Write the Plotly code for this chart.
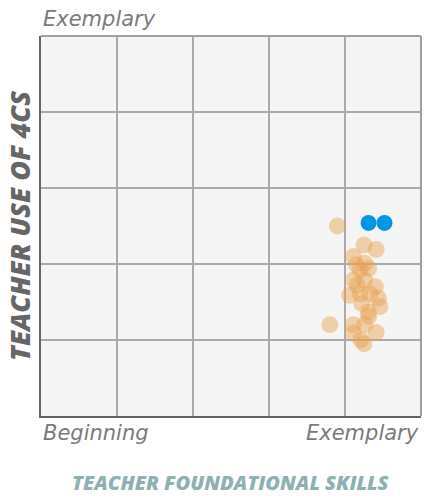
import plotly.graph_objects as go

# Data (scale 0..5)
orange_x = [3.90, 4.25, 4.41, 4.11, 4.15, 4.31, 4.26, 4.11, 4.26, 4.40, 4.06, 4.20, 4.33,
            4.44, 4.46, 4.22, 4.31, 4.31, 3.80, 4.11, 4.26, 4.41, 4.11, 4.21, 4.25, 4.20, 4.16]
orange_y = [2.50, 2.25, 2.19, 2.10, 1.99, 1.94, 2.01, 1.79, 1.79, 1.70, 1.59, 1.61, 1.61,
            1.55, 1.44, 1.48, 1.37, 1.31, 1.20, 1.20, 1.20, 1.10, 1.09, 1.00, 0.95, 1.92, 1.72]
blue_x = [4.31, 4.52]
blue_y = [2.54, 2.54]
x_labels = ["Beginning", "Exemplary"]
y_label_top = "Exemplary"
x_title = "TEACHER FOUNDATIONAL SKILLS"
y_title = "TEACHER USE OF 4CS"

fig = go.Figure()
fig.add_trace(go.Scatter(x=orange_x, y=orange_y, mode="markers",
                         marker=dict(size=17, color="rgba(232,160,80,0.45)", line=dict(width=0)),
                         hoverinfo="skip"))
fig.add_trace(go.Scatter(x=blue_x, y=blue_y, mode="markers",
                         marker=dict(size=16, color="rgb(0,150,230)", line=dict(width=0)),
                         hoverinfo="skip"))

axis_common = dict(range=[0, 5], tickvals=[1, 2, 3, 4], showticklabels=False,
                   showgrid=True, gridcolor="#aaaaaa", gridwidth=1.5, zeroline=False,
                   fixedrange=True)
fig.update_xaxes(**axis_common, showline=True, linecolor="#666666", linewidth=2)
fig.update_yaxes(**axis_common, showline=True, linecolor="#666666", linewidth=2)

label_font = dict(family="DejaVu Sans, sans-serif", size=21, color="#7a7a7a", style="italic", weight=200)
title_family = "Open Sans, sans-serif"
annotations = [
    dict(x=0, y=1, xref="paper", yref="paper", text=y_label_top, showarrow=False,
         xanchor="left", yanchor="bottom", yshift=3, font=label_font),
    dict(x=0, y=0, xref="paper", yref="paper", text=x_labels[0], showarrow=False,
         xanchor="left", yanchor="top", yshift=-3, font=label_font),
    dict(x=1, y=0, xref="paper", yref="paper", text=x_labels[1], showarrow=False,
         xanchor="right", yanchor="top", yshift=-3, font=label_font),
    dict(x=0.5, y=0, xref="paper", yref="paper", text=x_title, showarrow=False,
         xanchor="center", yanchor="middle", yshift=-66,
         font=dict(family=title_family, size=20, color="#8fb0b2", style="italic", weight=800)),
    dict(x=0, y=0.5, xref="paper", yref="paper", text=y_title, showarrow=False,
         xanchor="center", yanchor="middle", xshift=-22, textangle=-90,
         font=dict(family=title_family, size=27, color="#666666", style="italic", weight=800)),
]

shapes = [
    dict(type="line", xref="paper", yref="paper", x0=0, x1=1, y0=1, y1=1,
         line=dict(color="#a0a0a0", width=2)),
    dict(type="line", xref="paper", yref="paper", x0=1, x1=1, y0=0, y1=1,
         line=dict(color="#a0a0a0", width=2)),
]

fig.update_layout(width=425, height=496, margin=dict(l=41, r=4, t=36, b=80),
                  paper_bgcolor="white", plot_bgcolor="#f5f5f5", showlegend=False,
                  annotations=annotations, shapes=shapes)

fig.write_html("out.html", config={"displayModeBar": False},
               post_script="document.body.style.margin='0';document.body.style.overflow='hidden';")
